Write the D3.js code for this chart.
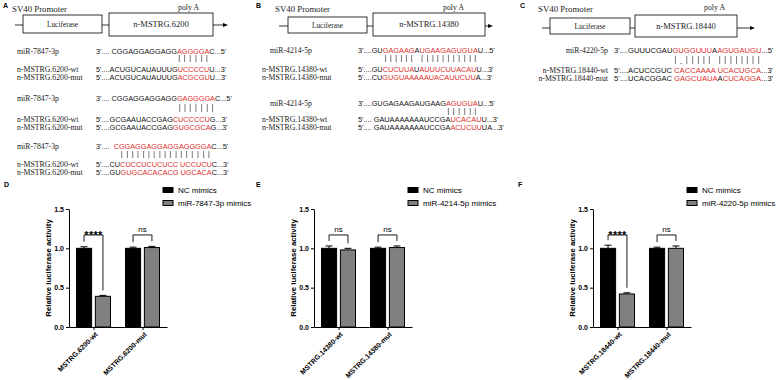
<!DOCTYPE html>
<html>
<head>
<meta charset="utf-8">
<script src="https://cdn.jsdelivr.net/npm/d3@7"></script>
<style>
  body { margin: 0; background: #fff; }
  text { white-space: pre; }
</style>
</head>
<body>
<svg id="fig" width="776" height="380"></svg>
<script>
// ---------- data ----------
const geneNames = ["n-MSTRG.6200", "n-MSTRG.14380", "n-MSTRG.18440"];

// sequence blocks: [label, sequence]; red parts in [brackets]
const seqA1 = [
  ["miR-7847-3p", "3'.... CGGAGGAGGAGG[AGGGGA]C...5'"],
  ["n-MSTRG.6200-wt", "5'....ACUGUCAUAUUUG[UCCCCU]U...3'"],
  ["n-MSTRG.6200-mut", "5'....ACUGUCAUAUUUG[ACGCGU]U...3'"]
];
const seqA2 = [
  ["miR-7847-3p", "3'.... CGGAGGAGGAGG[GAGGGGA]C...5'"],
  ["n-MSTRG.6200-wt", "5'....GCGAAUACCGAG[CUCCCCU]G...3'"],
  ["n-MSTRG.6200-mut", "5'....GCGAAUACCGAG[GUGCGCA]G...3'"]
];
const seqA3 = [
  ["miR-7847-3p", "3'....  [CGGAGGAGGAGGAGGGGA]C...5'"],
  ["n-MSTRG.6200-wt", "5'....CU[CUCCUCUCUCC UCCUCU]C...3'"],
  ["n-MSTRG.6200-mut", "5'....GU[GUGCACACACG UGCACA]C...3'"]
];
const seqB1 = [
  ["miR-4214-5p", "3'....GU[GAGAAG]A[UGAAGAGUGUA]U...5'"],
  ["n-MSTRG.14380-wt", "5'....GU[CUCUUA]U[AUUUCUUACAU]U...3'"],
  ["n-MSTRG.14380-mut", "5'....CU[GUGUAAAAAUACAUUCUU]A...3'"]
];
const seqB2 = [
  ["miR-4214-5p", "3'....GUGAGAAGAUGAAG[AGUGUA]U...5'"],
  ["n-MSTRG.14380-wt", "5'.... GAUAAAAAAAUCCGA[UCACAU]U...3'"],
  ["n-MSTRG.14380-mut", "5'.... GAUAAAAAAAUCCGA[ACUCUU]UA...3'"]
];
const seqC1 = [
  ["miR-4220-5p", "3'....GUUUCGAU[GUGGUUU]A[AGUGAUGU]...5'"],
  ["n-MSTRG.18440-wt", "5'....ACUCCGUC [CACCAAAA] [UCACUGCA]...3'"],
  ["n-MSTRG.18440-mut", "5'....UCACGGAC [GAGCUAUA]A[CUCAGGA]...3'"]
];
// pairing marks under the red characters of the miRNA line
const marksA1 = "||||||";
const marksA2 = "|||||||";
const marksA3 = " |||||||||||||||||";
const marksB1 = "|||||||||||||||||";
const marksB2 = "||||||";
const marksC1 = "|.|||||||||||||";

// luciferase assays
const groupsD = ["MSTRG.6200-wt", "MSTRG.6200-mut"];
const ncD = [1.0, 1.0], ncErrD = [0.02, 0.015];
const mimD = [0.39, 1.01], mimErrD = [0.012, 0.015];
const sigD = ["****", "ns"];

const groupsE = ["MSTRG.14380-wt", "MSTRG.14380-mut"];
const ncE = [1.0, 1.0], ncErrE = [0.03, 0.015];
const mimE = [0.98, 1.01], mimErrE = [0.02, 0.02];
const sigE = ["ns", "ns"];

const groupsF = ["MSTRG.18440-wt", "MSTRG.18440-mut"];
const ncF = [1.0, 1.0], ncErrF = [0.04, 0.015];
const mimF = [0.42, 1.0], mimErrF = [0.015, 0.03];
const sigF = ["****", "ns"];

const yTicks = [0, 0.5, 1.0, 1.5];
const RED = "#e0302c";
const SANS = "'Liberation Sans', Arial, sans-serif";
const SERIF = "'Liberation Serif', 'Times New Roman', serif";

const svg = d3.select("#fig");

// ---------- panel letters ----------
[["A", 3, 8], ["B", 256, 8], ["C", 520, 8], ["D", 4, 187], ["E", 256, 187], ["F", 518, 187]]
  .forEach(([t, x, y]) => svg.append("text").attr("x", x).attr("y", y)
    .attr("font-family", SANS).attr("font-weight", "bold").attr("font-size", 7).text(t));

// ---------- constructs ----------
const constructs = [
  { x0: 15, x1: 228, y: 25, luc: [23, 102, 15, 33], gene: [109, 213, 13, 36], prom: 12, poly: 178 },
  { x0: 279, x1: 493, y: 26, luc: [288, 367, 17, 33], gene: [373, 485, 13, 36], prom: 275, poly: 443 },
  { x0: 542, x1: 755, y: 28, luc: [550, 630, 18, 34], gene: [635, 737, 15, 37], prom: 538, poly: 704 }
];

constructs.forEach((c, i) => {
  const g = svg.append("g");
  g.append("text").attr("x", c.prom).attr("y", 11.5).attr("font-family", SERIF)
    .attr("font-size", 8.8).attr("fill", "#222").text("SV40 Promoter");
  g.append("text").attr("x", c.poly).attr("y", 9.5).attr("font-family", SERIF)
    .attr("font-size", 7.8).attr("fill", "#222").text("poly A");
  g.append("line").attr("x1", c.x0).attr("x2", c.x1 - 3).attr("y1", c.y).attr("y2", c.y)
    .attr("stroke", "#000").attr("stroke-width", 0.8);
  g.append("path").attr("d", `M${c.x1},${c.y} L${c.x1 - 5},${c.y - 2} L${c.x1 - 5},${c.y + 2} Z`).attr("fill", "#000");
  [[c.luc, "Luciferase", 7.4], [c.gene, geneNames[i], 8.5]].forEach(([b, t, fs]) => {
    g.append("rect").attr("x", b[0]).attr("y", b[2]).attr("width", b[1] - b[0]).attr("height", b[3] - b[2])
      .attr("fill", "#fff").attr("stroke", "#000").attr("stroke-width", 0.8);
    g.append("text").attr("x", (b[0] + b[1]) / 2).attr("y", (b[2] + b[3]) / 2 + fs * 0.34)
      .attr("text-anchor", "middle").attr("font-family", SERIF).attr("font-size", fs)
      .attr("fill", "#222").text(t);
  });
});

// ---------- sequence blocks ----------
const blocks = [
  { seq: seqA1, marks: marksA1, lx: 17, anchor: "start", sx: 96, fs: 7.3, ys: [51, 69, 77], by: [55, 62] },
  { seq: seqA2, marks: marksA2, lx: 17, anchor: "start", sx: 96, fs: 7.3, ys: [98, 119, 127], by: [104, 112] },
  { seq: seqA3, marks: marksA3, lx: 17, anchor: "start", sx: 96, fs: 7.3, ys: [146, 164, 172], by: [151, 158] },
  { seq: seqB1, marks: marksB1, lx: [270, 262, 262], anchor: "start", sx: 358, fs: 7.35, ys: [50, 69, 77], by: [55, 62] },
  { seq: seqB2, marks: marksB2, lx: [270, 262, 262], anchor: "start", sx: 358, fs: 7.35, ys: [103, 119, 127], by: [108, 115] },
  { seq: seqC1, marks: marksC1, lx: 608, anchor: "end", sx: 614, fs: 7.6, ys: [50, 70, 78], by: [56, 64] }
];

function seqText(g, str, x, y, fs) {
  const t = g.append("text").attr("x", x).attr("y", y)
    .attr("font-family", SANS).attr("font-size", fs);
  const red = [];
  let idx = 0;
  str.split(/(\[[^\]]*\])/).filter(s => s.length).forEach(part => {
    const isRed = part.startsWith("[");
    const s = isRed ? part.slice(1, -1) : part;
    if (isRed) for (let k = 0; k < s.length; k++) if (s[k] !== " ") red.push(idx + k);
    idx += s.length;
    t.append("tspan").attr("fill", isRed ? RED : "#111").text(s);
  });
  return { node: t.node(), red };
}

blocks.forEach(b => {
  const g = svg.append("g");
  b.seq.forEach(([label, s], r) => {
    const lx = Array.isArray(b.lx) ? b.lx[r] : b.lx;
    g.append("text").attr("x", lx).attr("y", b.ys[r] + 2.7).attr("text-anchor", b.anchor)
      .attr("font-family", SERIF).attr("font-size", 7.8).attr("fill", "#222").text(label);
    const res = seqText(g, s, b.sx, b.ys[r] + 2.6, b.fs);
    if (r === 0) {
      b.marks.split("").forEach((m, k) => {
        if (m === " " || k >= res.red.length) return;
        const ext = res.node.getExtentOfChar(res.red[k]);
        const cx = ext.x + ext.width / 2;
        if (m === "|") {
          g.append("line").attr("x1", cx).attr("x2", cx).attr("y1", b.by[0]).attr("y2", b.by[1])
            .attr("stroke", "#222").attr("stroke-width", 0.6);
        } else {
          g.append("circle").attr("cx", cx).attr("cy", b.by[1] - 0.5).attr("r", 0.5).attr("fill", "#222");
        }
      });
    }
  });
});

// ---------- bar charts ----------
function drawChart(cfg) {
  const g = svg.append("g");
  const ax = cfg.axisX;
  const y = d3.scaleLinear().domain([0, 1.5]).range([327, 209]);
  const x = d3.scalePoint().domain(cfg.groups).range([ax, ax + 98]).padding(0.5);
  const inner = d3.scaleBand().domain(["nc", "mim"]).range([-17, 17]).paddingInner(0.2);

  const rows = cfg.groups.map((grp, i) => ({
    grp, sig: cfg.sig[i],
    bars: [
      { key: "nc", v: cfg.nc[i], e: cfg.ncErr[i] },
      { key: "mim", v: cfg.mim[i], e: cfg.mimErr[i] }
    ]
  }));

  const yAxis = g.append("g").attr("transform", `translate(${ax},0)`)
    .call(d3.axisLeft(y).tickValues(yTicks).tickFormat(d3.format(".1f")).tickSize(3).tickSizeOuter(0));
  const xAxis = g.append("g").attr("transform", `translate(0,327)`)
    .call(d3.axisBottom(x).tickSize(3).tickSizeOuter(0).tickFormat(""));
  [yAxis, xAxis].forEach(a => {
    a.selectAll("path,line").attr("stroke", "#000").attr("stroke-width", 1);
    a.selectAll("text").attr("font-family", SANS).attr("font-weight", "bold")
      .attr("font-size", 7).attr("fill", "#000");
  });
  yAxis.selectAll("text").attr("x", -5);

  g.append("text")
    .attr("transform", `translate(${ax - 21},${268}) rotate(-90)`)
    .attr("text-anchor", "middle").attr("dy", "0.35em")
    .attr("font-family", SANS).attr("font-weight", "bold").attr("font-size", 7.8)
    .text("Relative luciferase activity");

  rows.forEach(row => {
    const cx = x(row.grp);
    row.bars.forEach(b => {
      const bx = cx + inner(b.key);
      const bw = inner.bandwidth();
      g.append("line").attr("x1", bx + bw / 2).attr("x2", bx + bw / 2)
        .attr("y1", y(b.v)).attr("y2", y(b.v + b.e)).attr("stroke", "#000").attr("stroke-width", 1);
      g.append("line").attr("x1", bx + bw / 2 - 3.5).attr("x2", bx + bw / 2 + 3.5)
        .attr("y1", y(b.v + b.e)).attr("y2", y(b.v + b.e)).attr("stroke", "#000").attr("stroke-width", 1);
      g.append("rect").attr("x", bx).attr("width", bw)
        .attr("y", y(b.v)).attr("height", y(0) - y(b.v))
        .attr("fill", b.key === "nc" ? "#000" : "#808080")
        .attr("stroke", "#000").attr("stroke-width", 1);
    });
    // bracket
    const by = y(1.17);
    const xs = row.bars.map(b => cx + inner(b.key) + inner.bandwidth() / 2);
    const ends = row.bars.map(b => y(b.v + b.e) - 5);
    g.append("path")
      .attr("d", `M${xs[0]},${ends[0]} V${by} H${xs[1]} V${ends[1]}`)
      .attr("fill", "none").attr("stroke", "#000").attr("stroke-width", 0.9);
    const star = row.sig.startsWith("*");
    g.append("text").attr("x", cx).attr("y", star ? by + 4 : by - 3)
      .attr("text-anchor", "middle").attr("font-family", SANS)
      .attr("font-weight", star ? "bold" : "normal")
      .attr("font-size", star ? 11 : 8).attr("letter-spacing", star ? 0.3 : 0)
      .text(row.sig);

    g.append("text")
      .attr("transform", `translate(${cx + 3},333) rotate(-45)`)
      .attr("text-anchor", "end").attr("dy", "0.35em")
      .attr("font-family", SANS).attr("font-weight", "bold").attr("font-size", 7)
      .text(row.grp);
  });

  // legend
  cfg.legend.forEach((t, i) => {
    const ly = 190 + i * 13;
    g.append("rect").attr("x", ax + 94).attr("y", ly - 2.5).attr("width", 10).attr("height", 5)
      .attr("fill", i === 0 ? "#000" : "#808080").attr("stroke", "#000").attr("stroke-width", 1);
    g.append("text").attr("x", ax + 109).attr("y", ly + 3)
      .attr("font-family", SANS).attr("font-size", 8).text(t);
  });
}

drawChart({ axisX: 69, groups: groupsD, nc: ncD, ncErr: ncErrD, mim: mimD, mimErr: mimErrD, sig: sigD,
  legend: ["NC mimics", "miR-7847-3p mimics"] });
drawChart({ axisX: 314, groups: groupsE, nc: ncE, ncErr: ncErrE, mim: mimE, mimErr: mimErrE, sig: sigE,
  legend: ["NC mimics", "miR-4214-5p mimics"] });
drawChart({ axisX: 593, groups: groupsF, nc: ncF, ncErr: ncErrF, mim: mimF, mimErr: mimErrF, sig: sigF,
  legend: ["NC mimics", "miR-4220-5p mimics"] });
</script>
</body>
</html>
